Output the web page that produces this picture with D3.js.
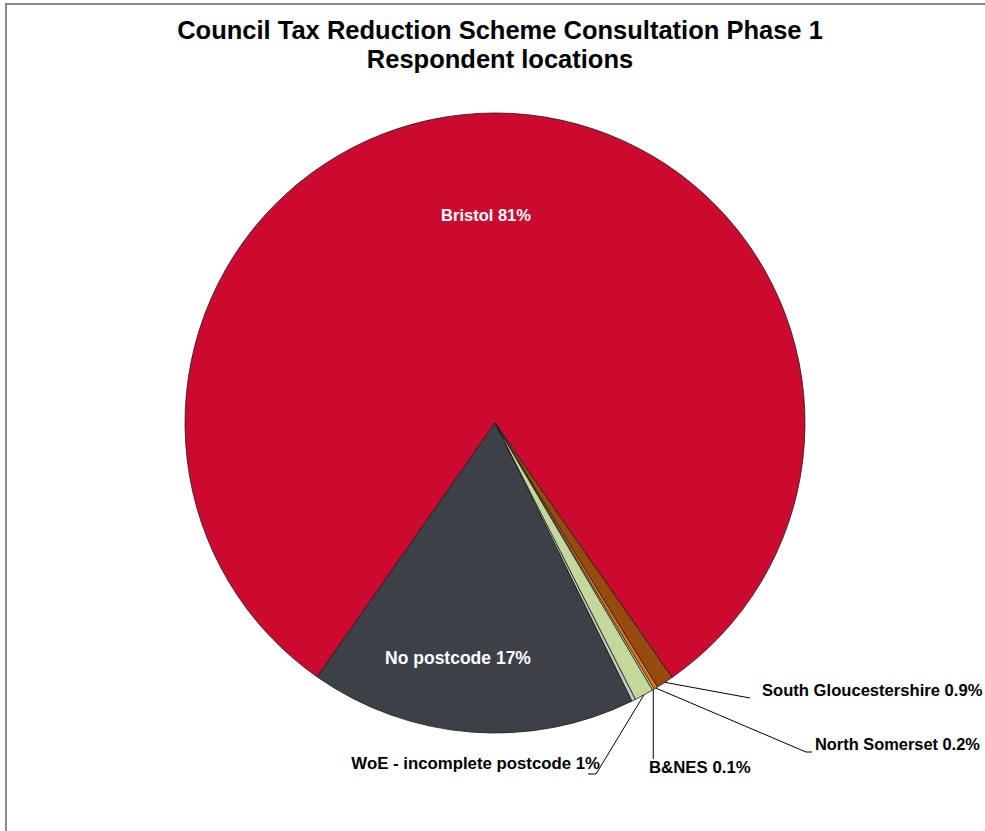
<!DOCTYPE html>
<html>
<head>
<meta charset="utf-8">
<script src="https://cdn.jsdelivr.net/npm/d3@7"></script>
<style>
  html, body { margin: 0; padding: 0; background: #ffffff; }
  svg { display: block; }
  text { font-family: "Liberation Sans", Arial, sans-serif; font-weight: bold; }
</style>
</head>
<body>
<svg id="chart" width="985" height="831"></svg>
<script>
// ---- Data ----
const categories = ["Bristol", "South Gloucestershire", "North Somerset", "B&NES",
                    "WoE - incomplete postcode", "Other", "No postcode"];
const values = [80.6, 0.9, 0.2, 0.1, 1.0, 0.2, 17.0];
const labels = ["Bristol 81%", "South Gloucestershire 0.9%", "North Somerset 0.2%", "B&NES 0.1%",
                "WoE - incomplete postcode 1%", "", "No postcode 17%"];
const titleLines = ["Council Tax Reduction Scheme Consultation Phase 1", "Respondent locations"];

// ---- Styling / layout ----
const colors = ["#CC0A30", "#974A0E", "#E8760F", "#DCE4A6", "#C4D89C", "#C8C8C8", "#3C4148"];
const W = 985, H = 831;
const cx = 495, cy = 423, R = 310;
const firstSliceAngle = 215; // degrees, clockwise from 12 o'clock

const svg = d3.select("#chart");

// frame (top + left edges visible)
svg.append("path")
  .attr("d", `M6,${H} L6,4 L${W},4`)
  .attr("fill", "none").attr("stroke", "#8a8a8a").attr("stroke-width", 2);

// title
svg.append("g").selectAll("text").data(titleLines).join("text")
  .attr("x", 500).attr("y", (d, i) => 39 + i * 29)
  .attr("text-anchor", "middle")
  .attr("font-size", 25.5)
  .attr("fill", "#000")
  .text(d => d);

const color = d3.scaleOrdinal().domain(categories).range(colors);
const rows = categories.map((c, i) => ({ cat: c, value: values[i], label: labels[i] }));

const a0 = firstSliceAngle * Math.PI / 180;
const pie = d3.pie().sort(null).value(d => d.value).startAngle(a0).endAngle(a0 + 2 * Math.PI);
const arcs = pie(rows);
const arc = d3.arc().innerRadius(0).outerRadius(R);

const g = svg.append("g").attr("transform", `translate(${cx},${cy})`);
g.selectAll("path").data(arcs).join("path")
  .attr("d", arc)
  .attr("fill", d => color(d.data.cat))
  .attr("stroke", "#1a1a1a")
  .attr("stroke-width", 0.8)
  .attr("stroke-linejoin", "round");

// inside labels (absolute positions)
const inside = {
  "Bristol": [486, 221],
  "No postcode": [458, 664]
};
// outside labels: text anchor point, anchor, leader path elbow points (absolute)
const outside = {
  "South Gloucestershire": { tx: 762, ty: 696, anchor: "start", size: 16.6, pts: [[750, 698]] },
  "North Somerset": { tx: 815, ty: 750, anchor: "start", size: 16.4, pts: [[806, 752], [812, 752]] },
  "B&NES": { tx: 649, ty: 773, anchor: "start", size: 16.8, pts: "vertical", endY: 759 },
  "WoE - incomplete postcode": { tx: 600, ty: 769, anchor: "end", size: 16.8, pts: [[596, 774], [588, 774]] }
};

arcs.forEach(d => {
  const cat = d.data.cat;
  if (inside[cat]) {
    svg.append("text")
      .attr("x", inside[cat][0]).attr("y", inside[cat][1])
      .attr("text-anchor", "middle")
      .attr("font-size", cat === "Bristol" ? 16.5 : 17.5)
      .attr("fill", "#fff")
      .text(d.data.label);
  } else if (outside[cat]) {
    const o = outside[cat];
    const mid = (d.startAngle + d.endAngle) / 2;
    const ex = cx + R * Math.sin(mid), ey = cy - R * Math.cos(mid);
    let pts;
    if (o.pts === "vertical") pts = [[ex, ey], [ex, o.endY]];
    else pts = [[ex, ey], ...o.pts];
    svg.append("path")
      .attr("d", d3.line()(pts))
      .attr("fill", "none").attr("stroke", "#000").attr("stroke-width", 1);
    svg.append("text")
      .attr("x", o.tx).attr("y", o.ty)
      .attr("text-anchor", o.anchor)
      .attr("font-size", o.size)
      .attr("fill", "#000")
      .text(d.data.label);
  }
});
</script>
</body>
</html>
